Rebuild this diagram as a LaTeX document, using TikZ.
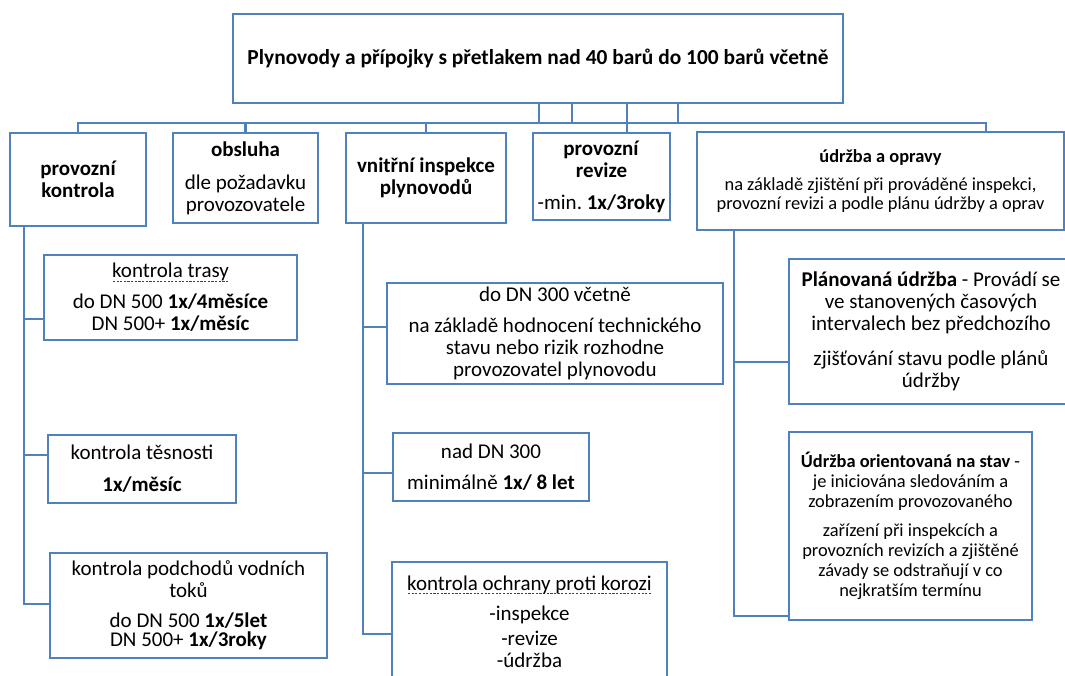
\documentclass[tikz,border=0pt]{standalone}
\usepackage{fontspec}
\setmainfont{Carlito}
\definecolor{lineblue}{RGB}{79,129,189}
\tikzset{
  box/.style={draw=lineblue, line width=2.6pt, fill=white, align=center,
    inner sep=0pt, text=black},
  conn/.style={draw=lineblue, line width=2.6pt},
}
% text sizes with tight, fixed line spacing
\newcommand\txttitle{\fontsize{21.4}{22}\selectfont\lineskiplimit=-100pt\lineskip=0pt}
\newcommand\txtbig{\fontsize{21}{22}\selectfont\lineskiplimit=-100pt\lineskip=0pt}
\newcommand\txtmid{\fontsize{18.4}{20}\selectfont\lineskiplimit=-100pt\lineskip=0pt}
\newcommand\txtsmall{\fontsize{18.4}{19}\selectfont\lineskiplimit=-100pt\lineskip=0pt}
% dashed underline drawn with leaders
\newsavebox\dulbox
\newcommand\dul[1]{\sbox\dulbox{#1}\leavevmode
  \rlap{\raisebox{-3.5pt}[0pt][0pt]{\hbox to\wd\dulbox{\color{black!75}\xleaders\hbox to 3.6pt{\hss\vrule width 2.2pt height 0.8pt depth 0pt\hss}\hfill}}}%
  \usebox\dulbox}

\begin{document}
\begin{tikzpicture}[x=1pt,y=-1pt]
\useasboundingbox (0,0) rectangle (1065,675);
\clip (0,0) rectangle (1065,675);
\fill[white] (0,0) rectangle (1065,675);

% top-level box
\node[box, minimum width=610, minimum height=89, font=\txttitle\bfseries] (top) at (538,58.5)
  {Plynovody a přípojky s přetlakem nad 40 barů do 100 barů včetně};

% second row
\node[box, minimum width=136, minimum height=93, font=\txtbig\bfseries] (kontrola) at (78,179.5)
  {provozní\\kontrola};
\node[box, minimum width=145, minimum height=90, font=\txtbig] (obsluha) at (245.5,178)
  {\textbf{obsluha}\\[11pt]dle požadavku\\provozovatele};
\node[box, minimum width=160, minimum height=90, font=\txtbig\bfseries] (vnitrni) at (426,178)
  {vnitřní inspekce\\plynovodů};
\node[box, minimum width=137, minimum height=87, font=\txtbig] (revize) at (601.5,176.5)
  {\textbf{provozní}\\\textbf{revize}\\[10pt]-min.\ \textbf{1x/3roky}};
\node[box, minimum width=367, minimum height=98, font=\txtsmall] (udrzba) at (880.5,181)
  {\textbf{údržba a opravy}\\[9pt]na základě zjištění při prováděné inspekci,\\provozní revizi a podle plánu údržby a oprav};

% provozní kontrola branch
\node[box, minimum width=253, minimum height=85, font=\txtbig] (trasa) at (170.5,297.5)
  {\dul{kontrola trasy}\\[9pt]do DN 500 \textbf{1x/4měsíce}\\DN 500+ \textbf{1x/měsíc}};
\node[box, minimum width=188, minimum height=68, font=\txtbig] (tesnost) at (142,469)
  {kontrola těsnosti\\[10pt]\textbf{1x/měsíc}};
\node[box, minimum width=277, minimum height=105, font=\txtbig] (podchod) at (188.5,605.5)
  {kontrola podchodů vodních\\toků\\[8pt]do DN 500 \textbf{1x/5let}\\[-3pt]DN 500+ \textbf{1x/3roky}};

% vnitřní inspekce branch
\node[box, minimum width=336, minimum height=101, font=\txtbig] (dn300) at (555,333.5)
  {do DN 300 včetně\\[9pt]na základě hodnocení technického\\stavu nebo rizik rozhodne\\provozovatel plynovodu};
\node[box, minimum width=196, minimum height=68, font=\txtbig] (naddn) at (491,467)
  {nad DN 300\\[9pt]minimálně \textbf{1x/ 8 let}};
\node[box, minimum width=275, minimum height=119, font=\txtbig] (koroze) at (529.5,621.5)
  {\dul{kontrola ochrany proti korozi}\\[8pt]-inspekce\\[3pt]-revize\\-údržba};

% údržba a opravy branch
\node[box, minimum width=284, minimum height=145, font=\txtbig] (planovana) at (931,331.5)
  {\textbf{Plánovaná údržba} - Provádí se\\ve stanovených časových\\intervalech bez předchozího\\[13pt]zjišťování stavu podle plánů\\údržby};
\node[box, minimum width=243, minimum height=188, font=\txtmid] (stav) at (910.5,526)
  {\textbf{Údržba orientovaná na stav} -\\je iniciována sledováním a\\zobrazením provozovaného\\[9pt]zařízení při inspekcích a\\provozních revizích a zjištěné\\závady se odstraňují v co\\nejkratším termínu};

% connector routing coordinates
\coordinate (bus) at (0,123);
\coordinate (s1) at (539,0);
\coordinate (s2) at (572,0);
\coordinate (s3) at (627,0);
\coordinate (s4) at (678,0);
\coordinate (uTick) at (986,0);
\coordinate (railK) at (24,0);
\coordinate (railV) at (363,0);
\coordinate (railU) at (734,0);

% top-level connectors
\draw[conn] (top.south -| s1) -- (s1 |- bus);
\draw[conn] (top.south -| s2) -- (s2 |- bus);
\draw[conn] (top.south -| s4) -- (s4 |- bus);
\draw[conn] (top.south -| s3) -- (s3 |- revize.north);
\draw[conn] (kontrola.north) -- (kontrola.north |- bus) -- (uTick |- bus) -- (uTick |- udrzba.north);
\draw[conn] (obsluha.north) -- (obsluha.north |- bus);
\draw[conn] (vnitrni.north) -- (vnitrni.north |- bus);

% provozní kontrola rail
\draw[conn] (railK |- kontrola.south) |- (podchod.west |- 0,604);
\draw[conn] (railK |- 0,319) -- (trasa.west |- 0,319);
\draw[conn] (railK |- 0,455) -- (tesnost.west |- 0,455);

% vnitřní inspekce rail
\draw[conn] (railV |- vnitrni.south) |- (koroze.west |- 0,634);
\draw[conn] (railV |- 0,327) -- (dn300.west |- 0,327);
\draw[conn] (railV |- 0,473) -- (naddn.west |- 0,473);

% údržba a opravy rail
\draw[conn] (railU |- udrzba.south) |- (stav.west |- 0,616);
\draw[conn] (railU |- 0,362) -- (planovana.west |- 0,362);
\end{tikzpicture}
\end{document}
